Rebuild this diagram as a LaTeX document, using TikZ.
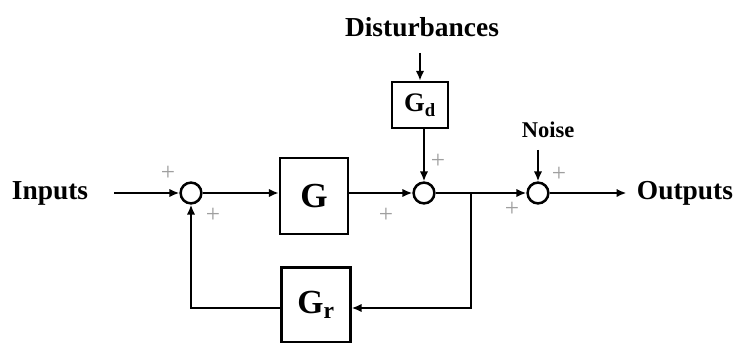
\documentclass[tikz,border=0pt]{standalone}
\usepackage{fontspec}
\setmainfont{Liberation Serif}
\usetikzlibrary{arrows.meta}
\tikzset{
  blk/.style={draw,line width=1.8pt,inner sep=0pt},
  sumnode/.style={draw,circle,line width=1.8pt,minimum size=0.52cm,inner sep=0pt},
  lbl/.style={font=\fontsize{19.5}{22}\selectfont\bfseries},
  sgn/.style={text=gray!75,font=\fontsize{18}{20}\selectfont},
  wire/.style={line width=1.8pt},
  arr/.style={line width=1.8pt,-{Latex[length=7pt,width=6pt]}}
}
\begin{document}
\begin{tikzpicture}[x=0.025cm,y=-0.025cm]
\useasboundingbox (0,0) rectangle (733,343);

\node[lbl] (in) at (50,193) {Inputs};
\node[lbl] (dist) at (422,27) {Disturbances};
\node[lbl,font=\fontsize{16}{18}\selectfont\bfseries] (noise) at (548,130) {Noise};
\node[lbl] (out) at (685,193) {Outputs};

\node[sumnode] (s1) at (191,193) {};
\node[sumnode] (s2) at (424,193) {};
\node[sumnode] (s3) at (538,193) {};

\node[blk,minimum width=1.7cm,minimum height=1.9cm] (G) at (314,196)
  {\fontsize{25}{28}\selectfont\bfseries G};
\node[blk,minimum width=1.4cm,minimum height=1.15cm] (Gd) at (420,105)
  {\fontsize{19}{22}\selectfont\bfseries G\textsubscript{d}};
\node[blk,minimum width=1.72cm,minimum height=1.88cm] (Gr) at (316,305)
  {\fontsize{24}{27}\selectfont\bfseries G\textsubscript{r}};

\coordinate (br) at (471,193);

\draw[arr,shorten <=15pt] (in.east) -- (s1);
\draw[arr] (s1) -- (G.west |- s1);
\draw[arr] (G.east |- s1) -- (s2);
\draw[wire] (s2) -- (br);
\draw[arr] (br) -- (s3);
\draw[arr,shorten >=4pt] (s3) -- (s3 -| out.west);
\draw[arr,shorten <=8pt] (dist.south -| Gd) -- (Gd.north);
\draw[arr] (Gd.south -| s2) -- (s2.north);
\draw[arr,shorten <=5pt] (noise.south -| s3) -- (s3.north);
\draw[arr] (br) |- (Gr.east |- 0,308);
\draw[arr] (Gr.west |- 0,308) -| (s1.south);

\node[sgn] (p1) at (168,173) {+};
\node[sgn] (p2) at (213,215) {+};
\node[sgn] (p3) at (386,215) {+};
\node[sgn] (p4) at (438,161) {+};
\node[sgn] (p5) at (512,209) {+};
\node[sgn] (p6) at (559,174) {+};
\end{tikzpicture}
\end{document}
